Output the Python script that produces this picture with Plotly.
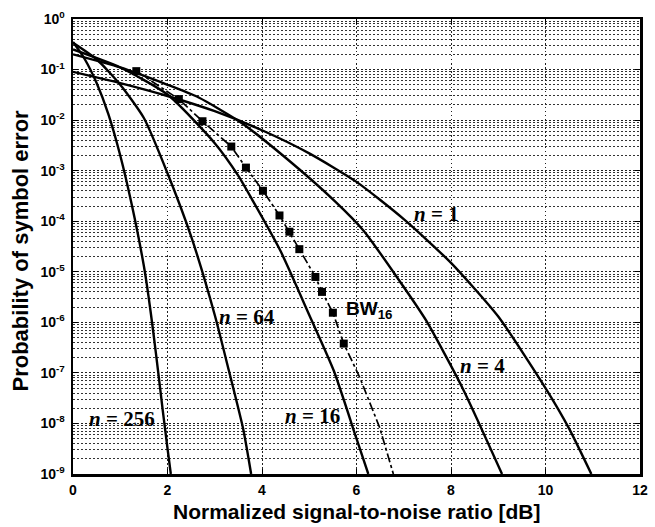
import plotly.graph_objects as go

# ---- data ----
n1_x = [0, 1, 2, 3, 4, 5, 6, 7, 8, 9, 10, 10.5, 10.97]
n1_p = [9.0e-2, 5.4e-2, 3.0e-2, 1.5e-2, 6.3e-3, 2.2e-3, 6.0e-4, 1.1e-4, 1.5e-5, 1.3e-6, 5.0e-8, 7.9e-9, 1.0e-9]

n4_x = [0, 1, 2, 2.66, 3.56, 4.5, 5.54, 6.15, 7.0, 7.47, 8.24, 9.08]
n4_p = [2.0e-1, 1.1e-1, 5.0e-2, 2.8e-2, 8.9e-3, 1.8e-3, 2.5e-4, 6.5e-5, 5.0e-6, 1.1e-6, 5.1e-8, 1.0e-9]

n16_x = [0, 1, 2, 3, 3.5, 3.81, 4.39, 5, 5.52, 6, 6.25]
n16_p = [2.5e-1, 1.1e-1, 3.2e-2, 3.5e-3, 7.9e-4, 2.5e-4, 2.6e-5, 1.4e-6, 1.1e-7, 5.0e-9, 1.0e-9]

n64_x = [0, 0.5, 1.0, 1.5, 2.0, 2.5, 3.0, 3.3, 3.6, 3.77]
n64_p = [3.4e-1, 1.6e-1, 5.0e-2, 1.1e-2, 8.9e-4, 5.0e-5, 1.4e-6, 1.1e-7, 7.9e-9, 1.0e-9]

n256_x = [0, 0.25, 0.5, 0.75, 1.0, 1.25, 1.5, 1.6, 1.7, 1.8, 1.9, 2.0, 2.07]
n256_p = [3.5e-1, 1.6e-1, 5.4e-2, 1.3e-2, 2.0e-3, 2.0e-4, 1.3e-5, 3.2e-6, 6.3e-7, 1.1e-7, 1.8e-8, 3.2e-9, 1.0e-9]

bw_x = [1.34, 2.24, 2.74, 3.35, 3.66, 4.02, 4.37, 4.58, 4.79, 5.13, 5.27, 5.50, 5.73]
bw_p = [9.3e-2, 2.6e-2, 9.5e-3, 3.0e-3, 1.15e-3, 4.0e-4, 1.3e-4, 6.2e-5, 2.8e-5, 7.9e-6, 4.0e-6, 1.55e-6, 3.8e-7]
bw_tail_x = [6.07, 6.49, 6.78]
bw_tail_p = [8.1e-8, 8.3e-9, 1.0e-9]

x_ticks = [0, 2, 4, 6, 8, 10, 12]
y_exp = [0, -1, -2, -3, -4, -5, -6, -7, -8, -9]

labels = [
    ("<i>n</i> = 1", 7.7, 3.85),
    ("<i>n</i> = 4", 8.66, 6.86),
    ("<i>n</i> = 16", 5.06, 7.85),
    ("<i>n</i> = 64", 3.68, 5.9),
    ("<i>n</i> = 256", 1.03, 7.92),
]

# ---- figure ----
fig = go.Figure()
line_style = dict(color="black", width=2.4)
for xs, ps in [(n1_x, n1_p), (n4_x, n4_p), (n16_x, n16_p), (n64_x, n64_p), (n256_x, n256_p)]:
    fig.add_trace(go.Scatter(x=xs, y=ps, mode="lines", line=dict(shape="spline", smoothing=0.6, **line_style),
                             showlegend=False, hoverinfo="skip"))

fig.add_trace(go.Scatter(x=bw_x + bw_tail_x, y=bw_p + bw_tail_p, mode="lines",
                         line=dict(color="black", width=1.7, dash="dashdot"), showlegend=False, hoverinfo="skip"))
fig.add_trace(go.Scatter(x=bw_x, y=bw_p, mode="markers",
                         marker=dict(symbol="square", size=8, color="black"), showlegend=False, hoverinfo="skip"))

serif = "Liberation Serif, Times New Roman, serif"
for txt, lx, ld in labels:
    fig.add_annotation(x=lx, y=-ld, xref="x", yref="y", text="<b>" + txt + "</b>", showarrow=False,
                       xanchor="center", yanchor="middle", font=dict(family=serif, size=21, color="black"))
fig.add_annotation(x=5.73, y=-5.75, xref="x", yref="y", text="<b>BW<sub>16</sub></b>", showarrow=False,
                   xanchor="left", yanchor="middle", font=dict(family="Liberation Sans, Arial", size=19, color="black"))

minor_vals = [m * 10.0 ** k for k in range(-9, 0) for m in range(2, 10)]

sans = "Liberation Sans, Arial, sans-serif"
grid_dash = "1.5px,2.5px"
fig.update_layout(
    width=655, height=527,
    margin=dict(l=73, r=7, t=19, b=53),
    paper_bgcolor="white", plot_bgcolor="white",
    font=dict(family=sans, color="black", size=14),
    xaxis=dict(range=[0, 12], tickvals=x_ticks, ticktext=["<b>%d</b>" % v for v in x_ticks],
               showgrid=True, gridcolor="#222", griddash=grid_dash, gridwidth=1,
               showline=True, linecolor="black", linewidth=2.5, mirror="ticks",
               ticks="inside", ticklen=5, tickcolor="black", zeroline=False,
               ticklabelstandoff=2, tickfont=dict(size=14, family=sans)),
    yaxis=dict(type="log", range=[-9, 0], tickvals=[10.0 ** e for e in y_exp],
               ticktext=["<b>10<sup>%d</sup></b>" % e for e in y_exp],
               showgrid=True, gridcolor="#222", griddash=grid_dash, gridwidth=1,
               showline=True, linecolor="black", linewidth=2.5, mirror="ticks",
               ticks="inside", ticklen=5, tickcolor="black", zeroline=False,
               ticklabelstandoff=3, tickfont=dict(size=14, family=sans),
               minor=dict(tickvals=minor_vals, showgrid=True, gridcolor="#333", griddash=grid_dash, gridwidth=1,
                          ticks="")),
)
fig.add_annotation(x=0.5, y=0, xref="paper", yref="paper", yshift=-37, text="<b>Normalized signal-to-noise ratio [dB]</b>",
                   showarrow=False, yanchor="middle", font=dict(family=sans, size=21, color="black"))
fig.add_annotation(x=0, y=0.5, xref="paper", yref="paper", xshift=-53, yshift=-4, text="<b>Probability of symbol error</b>",
                   showarrow=False, textangle=-90, xanchor="center", yanchor="middle",
                   font=dict(family=sans, size=22, color="black"))

fig.write_html("out.html", config={"displayModeBar": False, "staticPlot": True},
               post_script="document.body.style.margin='0px';document.documentElement.style.overflow='hidden';")
